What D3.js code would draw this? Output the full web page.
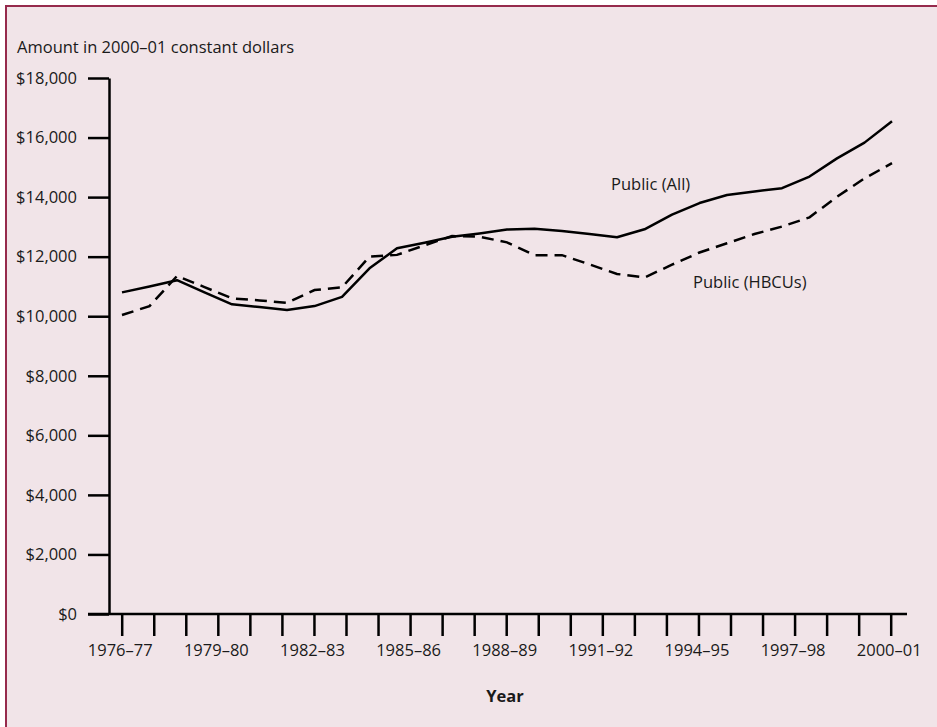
<!DOCTYPE html>
<html>
<head>
<meta charset="utf-8">
<script src="https://cdn.jsdelivr.net/npm/d3@7"></script>
<style>
  html, body { margin: 0; padding: 0; background: #ffffff; }
  svg { display: block; }
  text { font-family: "Open Sans", "Noto Sans", sans-serif; fill: #1a1a1a; }
</style>
</head>
<body>
<svg id="chart" width="937" height="727"></svg>
<script>
// ---- Data ----
const yearLabels = ["1976–77","1977–78","1978–79","1979–80","1980–81","1981–82","1982–83",
  "1983–84","1984–85","1985–86","1986–87","1987–88","1988–89","1989–90","1990–91","1991–92",
  "1992–93","1993–94","1994–95","1995–96","1996–97","1997–98","1998–99","1999–2000","2000–01"];
const labeledYears = ["1976–77","1979–80","1982–83","1985–86","1988–89","1991–92","1994–95","1997–98","2000–01"];
const yTicks = [0, 2000, 4000, 6000, 8000, 10000, 12000, 14000, 16000, 18000];

// Plotted points (29 vertices along the time axis)
const publicAll = [10800, 11000, 11210, 10800, 10400, 10310, 10210, 10340, 10650, 11610,
  12280, 12470, 12670, 12780, 12910, 12940, 12860, 12760, 12650, 12920,
  13410, 13800, 14070, 14190, 14300, 14690, 15300, 15830, 16550];
const publicHBCU = [10040, 10340, 11350, 10980, 10600, 10530, 10450, 10880, 10970, 12000,
  12060, 12380, 12690, 12670, 12480, 12050, 12050, 11740, 11420, 11300,
  11730, 12140, 12450, 12760, 13010, 13320, 14010, 14630, 15140];

const seriesNames = ["Public (All)", "Public (HBCUs)"];
const yTitle = "Amount in 2000–01 constant dollars";
const xTitle = "Year";

// ---- Drawing ----
const svg = d3.select("#chart");

svg.append("rect")
  .attr("x", 6).attr("y", 6)
  .attr("width", 960).attr("height", 760)
  .attr("fill", "#f1e4e8")
  .attr("stroke", "#962a4c")
  .attr("stroke-width", 2);

const y = d3.scaleLinear().domain([0, 18000]).range([614, 78]);
const xYear = d3.scalePoint().domain(yearLabels).range([121.7, 890.7]);
const xIdx = d3.scaleLinear().domain([0, publicAll.length - 1]).range([122, 892]);

const fontSize = 16.5;

// Y axis
const yAxis = svg.append("g")
  .attr("transform", "translate(109,0)")
  .call(d3.axisLeft(y).tickValues(yTicks).tickSize(21).tickSizeOuter(0).tickPadding(11)
    .tickFormat(d => "$" + d3.format(",")(d)));
yAxis.selectAll("path.domain").attr("stroke", "#000").attr("stroke-width", 2.5);
yAxis.selectAll(".tick line").attr("stroke", "#000").attr("stroke-width", 2.5);
yAxis.selectAll(".tick text")
  .attr("font-family", "'Open Sans', 'Noto Sans', sans-serif")
  .attr("font-size", fontSize).attr("fill", "#1a1a1a");

// X axis
const xAxis = svg.append("g")
  .attr("transform", `translate(0,${y(0)})`)
  .call(d3.axisBottom(xYear).tickSize(22).tickSizeOuter(0).tickPadding(8)
    .tickFormat(d => labeledYears.includes(d) ? d : ""));
xAxis.select("path.domain").remove();
xAxis.selectAll(".tick line").attr("stroke", "#000").attr("stroke-width", 2.5);
xAxis.selectAll(".tick text")
  .attr("font-family", "'Open Sans', 'Noto Sans', sans-serif")
  .attr("font-size", fontSize).attr("fill", "#1a1a1a")
  .attr("dx", -2);
svg.append("line")
  .attr("x1", 88).attr("x2", 907)
  .attr("y1", y(0)).attr("y2", y(0))
  .attr("stroke", "#000").attr("stroke-width", 2.5);

// Lines
const line = d3.line().x((d, i) => xIdx(i)).y(d => y(d));
svg.append("path").datum(publicAll)
  .attr("d", line).attr("fill", "none")
  .attr("stroke", "#000").attr("stroke-width", 2.5)
  .attr("stroke-linejoin", "round");
svg.append("path").datum(publicHBCU)
  .attr("d", line).attr("fill", "none")
  .attr("stroke", "#000").attr("stroke-width", 2.5)
  .attr("stroke-dasharray", "12,7");

// Series labels
svg.append("text").attr("x", 611).attr("y", 190)
  .attr("font-size", fontSize).text(seriesNames[0]);
svg.append("text").attr("x", 693).attr("y", 288)
  .attr("font-size", fontSize).text(seriesNames[1]);

// Titles
svg.append("text").attr("x", 17).attr("y", 53)
  .attr("font-size", fontSize).text(yTitle);
svg.append("text").attr("x", 505).attr("y", 702)
  .attr("text-anchor", "middle").attr("font-weight", "bold")
  .attr("font-size", fontSize).text(xTitle);
</script>
</body>
</html>
